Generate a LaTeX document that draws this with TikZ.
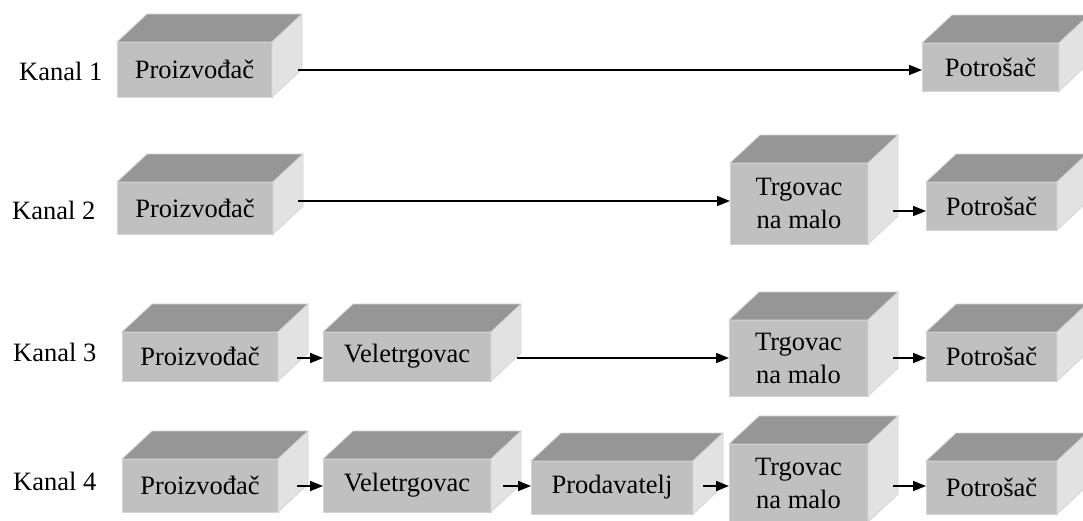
\documentclass[tikz,border=0pt]{standalone}
\usepackage{fontspec}
\setmainfont{Liberation Serif}
\usetikzlibrary{arrows.meta}
\definecolor{frontc}{RGB}{192,192,192}
\definecolor{topc}{RGB}{150,150,150}
\definecolor{sidec}{RGB}{226,226,226}
\definecolor{edgec}{RGB}{212,212,212}
\newcommand{\cubebox}[6]{%
  \pgfmathsetmacro{\cbw}{#4-#2}\pgfmathsetmacro{\cbh}{#5-#3}%
  \node[face, minimum width=\cbw pt, minimum height=\cbh pt] (#1) at ({(#2+#4)/2},{(#3+#5)/2}) {#6};
  \path[topface] (#1.north west) -- ([shift={(30,-28)}]#1.north west) -- ([shift={(30,-28)}]#1.north east) -- (#1.north east) -- cycle;
  \path[sideface] (#1.north east) -- ([shift={(30,-28)}]#1.north east) -- ([shift={(30,-28)}]#1.south east) -- (#1.south east) -- cycle;
}
\begin{document}
\begin{tikzpicture}[x=1pt,y=-1pt,
  face/.style={fill=frontc, draw=edgec, line width=0.8pt, inner sep=0pt, outer sep=0pt,
    font=\fontsize{26.5}{33}\selectfont, align=center, text=black},
  topface/.style={fill=topc, draw=edgec, line width=0.8pt},
  sideface/.style={fill=sidec, draw=edgec, line width=0.8pt},
  lab/.style={anchor=west, inner sep=0pt, font=\fontsize{26.5}{33}\selectfont},
  arr/.style={-{Triangle[length=13pt,width=10pt]}, line width=1.6pt}]
\useasboundingbox[fill=white] (0,0) rectangle (1083,520);

% labels
\node[lab] (k1) at (19,71) {Kanal 1};
\node[lab] (k2) at (12,210) {Kanal 2};
\node[lab] (k3) at (13,352) {Kanal 3};
\node[lab] (k4) at (13,481) {Kanal 4};

% row 1
\cubebox{P1}{117}{42}{272}{97}{Proizvođač}
\cubebox{C1}{922}{43}{1059}{91}{Potrošač}
% row 2
\cubebox{P2}{117}{182}{273}{234}{Proizvođač}
\cubebox{T2}{730}{163}{868}{244}{Trgovac\\na malo}
\cubebox{C2}{926}{182}{1057}{230}{Potrošač}
% row 3
\cubebox{P3}{122}{332}{278}{381}{Proizvođač}
\cubebox{V3}{323}{332}{491}{381}{Veletrgovac}
\cubebox{T3}{729}{320}{868}{396}{Trgovac\\na malo}
\cubebox{C3}{926}{332}{1057}{381}{Potrošač}
% row 4
\cubebox{P4}{122}{459}{278}{512}{Proizvođač}
\cubebox{V4}{323}{459}{491}{512}{Veletrgovac}
\cubebox{D4}{531}{461}{693}{514}{Prodavatelj}
\cubebox{T4}{729}{444}{868}{522}{Trgovac\\na malo}
\cubebox{C4}{926}{461}{1057}{514}{Potrošač}

% arrow heights
\coordinate (ya) at (0,70);
\coordinate (yb) at (0,201);
\coordinate (yc) at (0,211);
\coordinate (yd) at (0,358);
\coordinate (ye) at (0,486);

\draw[arr] ([xshift=26pt]P1.east |- ya) -- (C1.west |- ya);
\draw[arr] ([xshift=25pt]P2.east |- yb) -- (T2.west |- yb);
\draw[arr] ([xshift=25pt]T2.east |- yc) -- (C2.west |- yc);
\draw[arr] ([xshift=19pt]P3.east |- yd) -- (V3.west |- yd);
\draw[arr] ([xshift=26pt]V3.east |- yd) -- (T3.west |- yd);
\draw[arr] ([xshift=25pt]T3.east |- yd) -- (C3.west |- yd);
\draw[arr] ([xshift=19pt]P4.east |- ye) -- (V4.west |- ye);
\draw[arr] ([xshift=12pt]V4.east |- ye) -- (D4.west |- ye);
\draw[arr] ([xshift=10pt]D4.east |- ye) -- (T4.west |- ye);
\draw[arr] ([xshift=25pt]T4.east |- ye) -- (C4.west |- ye);
\end{tikzpicture}
\end{document}
